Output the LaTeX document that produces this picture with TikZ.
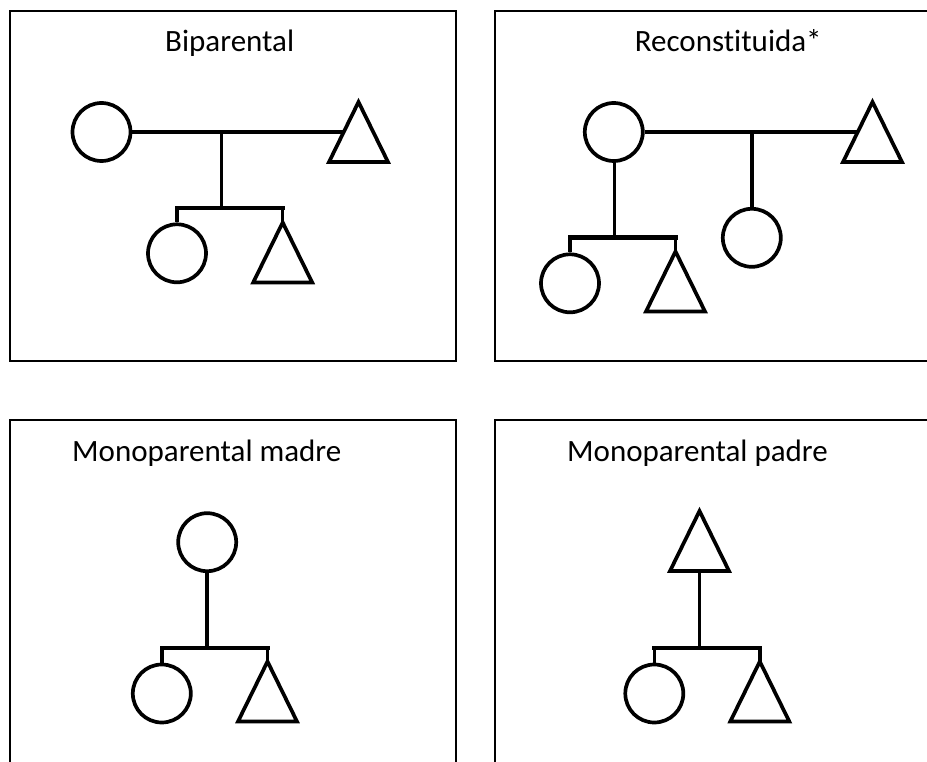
\documentclass[tikz,border=0pt]{standalone}
\usepackage{fontspec}
\setmainfont{Carlito}[Ligatures={NoCommon}]
\usetikzlibrary{calc}
\newcommand{\maletri}[3]{%
  \coordinate (#1a) at (#2,#3);
  \coordinate (#1l) at ($(#1a)+(-29.5,60)$);
  \coordinate (#1r) at ($(#1a)+(29.5,60)$);
  \coordinate (#1m) at ($(#1a)!0.5!(#1l)$);
  \coordinate (#1b) at ($(#1l)!0.5!(#1r)$);
  \draw[tri] (#1a) -- (#1l) -- (#1r) -- cycle;}
\begin{document}
\begin{tikzpicture}[x=1pt,y=-1pt,
  panel/.style={draw=black, line width=2pt},
  title/.style={anchor=base, font=\fontsize{31}{36}\selectfont, inner sep=0pt},
  fem/.style={circle, draw=black, line width=3.7pt, minimum size=58pt, inner sep=0pt},
  tri/.style={draw=black, line width=3.7pt, line join=miter},
  link/.style={draw=black, line width=3.5pt},
  sibbar/.style={draw=black, line width=4.4pt, line cap=rect},
]
\useasboundingbox (0,0) rectangle (927,762);
\fill[white] (0,0) rectangle (927,762);

% panels
\begin{scope}
  \clip (0,0) rectangle (927,762);
  \draw[panel] (10.3,11.3) rectangle (455.7,360.7);
  \draw[panel] (494.5,11.3) rectangle (945,360.7);
  \draw[panel] (10.3,419.5) rectangle (455.7,780);
  \draw[panel] (494.5,419.5) rectangle (945,780);
\end{scope}

% titles
\node[title] (h1) at (229.7,51.7) {Biparental};
\node[title] (h2) at (728.3,51.7) {Reconstituida*};
\node[title] (h3) at (206.8,461.7) {Monoparental madre};
\node[title] (h4) at (697.5,461.7) {Monoparental padre};

% ---------- Biparental ----------
\node[fem] (c1) at (101.5,132) {};
\maletri{t1}{358.5}{102}
\node[fem] (c2) at (177,253.3) {};
\maletri{t2}{282.7}{222.5}
\draw[link] (c1.east) -- (t1m);
\coordinate (j1) at (221.7,132);
\coordinate (b1) at (221.7,208.3);
\draw[link] (j1) -- (b1);
\draw[link] (b1 -| c2.north) -- (c2.north);
\draw[link] (b1 -| t2a) -- (t2a);
\draw[sibbar] (b1 -| c2.north) -- (b1 -| t2a);

% ---------- Reconstituida ----------
\node[fem] (c3) at (613.8,132) {};
\maletri{t3}{872.5}{102}
\node[fem] (c4) at (751.8,237.8) {};
\node[fem] (c5) at (570,283.3) {};
\maletri{t5}{675.5}{251.5}
\draw[link] (c3.east) -- (t3m);
\coordinate (j2) at (751.8,132);
\draw[link] (j2) -- (c4.north);
\coordinate (b2) at (614.5,237.7);
\draw[link] (b2 |- c3.south) -- (b2);
\draw[link] (b2 -| c5.north) -- (c5.north);
\draw[link] (b2 -| t5a) -- (t5a);
\draw[sibbar] (b2 -| c5.north) -- (b2 -| t5a);

% ---------- Monoparental madre ----------
\node[fem] (c6) at (207.2,542.2) {};
\node[fem] (c7) at (161.8,693.5) {};
\maletri{t7}{267.5}{661.5}
\coordinate (b3) at (207.2,648);
\draw[link] (c6.south) -- (b3);
\draw[link] (b3 -| c7.north) -- (c7.north);
\draw[link] (b3 -| t7a) -- (t7a);
\draw[sibbar] (b3 -| c7.north) -- (b3 -| t7a);

% ---------- Monoparental padre ----------
\maletri{t8}{699.5}{511}
\node[fem] (c9) at (654.3,693.5) {};
\maletri{t9}{759.8}{661.5}
\coordinate (b4) at (699.5,648);
\draw[link] (t8b) -- (b4);
\draw[link] (b4 -| c9.north) -- (c9.north);
\draw[link] (b4 -| t9a) -- (t9a);
\draw[sibbar] (b4 -| c9.north) -- (b4 -| t9a);
\end{tikzpicture}
\end{document}
